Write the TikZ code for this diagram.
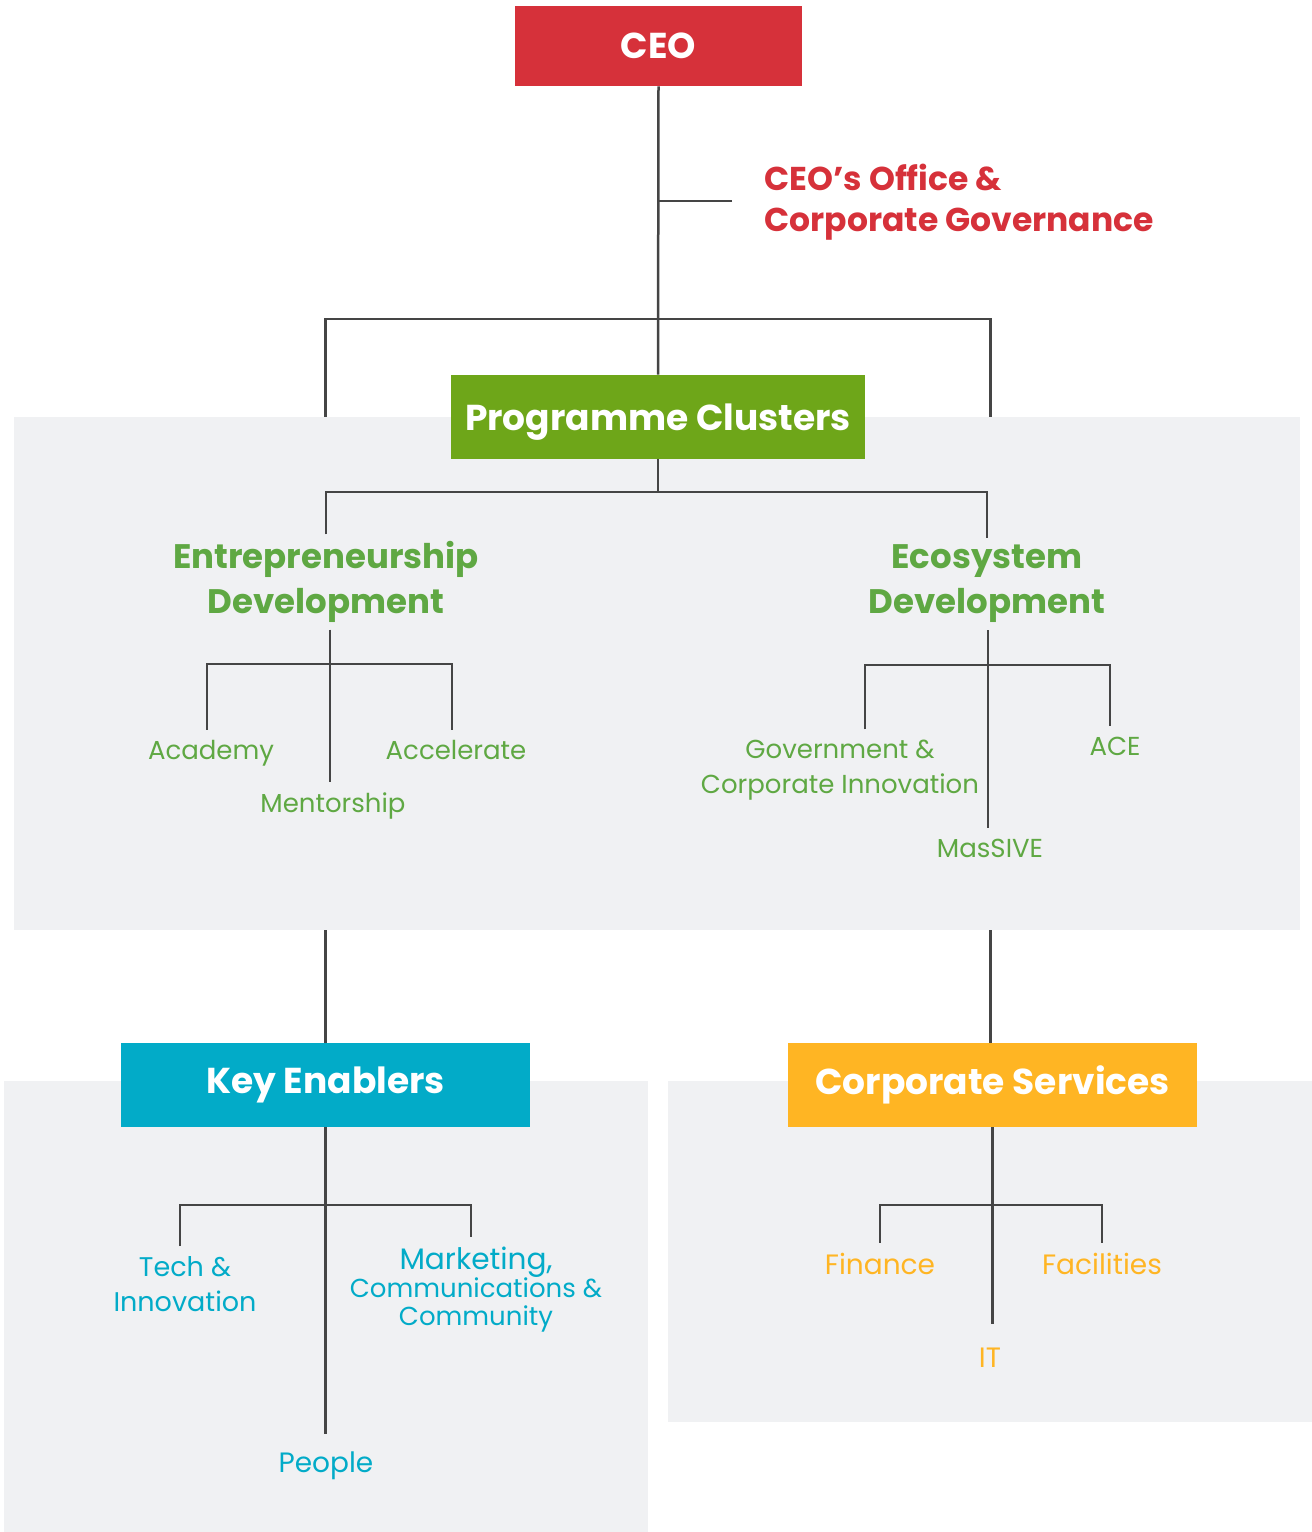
\documentclass[tikz,border=0pt]{standalone}
\usepackage{fontspec}
\setmainfont{Poppins}
\usetikzlibrary{positioning}
\definecolor{ceored}{HTML}{D6313A}
\definecolor{pcgreen}{HTML}{6EA619}
\definecolor{labgreen}{HTML}{5FA843}
\definecolor{keblue}{HTML}{02ABC8}
\definecolor{csorange}{HTML}{FFB523}
\definecolor{panelgray}{HTML}{F0F1F3}
\definecolor{linegray}{HTML}{454545}
\newcommand{\tightlines}{\lineskiplimit=-20pt\relax}
\pgfdeclarelayer{back}
\pgfdeclarelayer{panels}
\pgfsetlayers{back,panels,main}
\tikzset{
  headbox/.style={fill=#1, text=white, font=\bfseries\fontsize{18}{22}\selectfont,
    minimum height=42pt, inner sep=0pt},
  groupname/.style={text=labgreen, font=\bfseries\fontsize{17}{22.5}\selectfont, align=center},
  unitname/.style={text=#1, font=\fontsize{13}{17.5}\selectfont, align=center, inner sep=5pt},
  link/.style={draw=linegray, line width=1.25pt},
}
\begin{document}
\begin{tikzpicture}[x=0.5pt,y=-0.5pt]
  \useasboundingbox (0,0) rectangle (1312,1532);
  % grey panels
  \begin{pgfonlayer}{panels}
    \fill[panelgray] (14,417) rectangle (1300,930);
    \fill[panelgray] (4,1081) rectangle (648,1532);
    \fill[panelgray] (668,1081) rectangle (1312,1422);
  \end{pgfonlayer}
  % head boxes
  \node[headbox=ceored, minimum width=143.5pt, minimum height=40pt] (ceo) at (658.5,46) {CEO};
  \node[headbox=pcgreen, minimum width=207pt, text depth=0pt] (pc) at (658,417) {Programme Clusters};
  \node[headbox=keblue, minimum width=204.5pt] (ke) at (325.5,1085) {Key Enablers};
  \node[headbox=csorange, minimum width=204.5pt] (cs) at (992.5,1085) {Corporate Services};
  % ceo's office
  \node[anchor=west, inner sep=0pt, text=ceored, align=left,
    font=\bfseries\fontsize{16.5}{20.5}\selectfont] (office) at (764,202) {CEO’s Office \&\\Corporate Governance};
  \coordinate (tick) at (732,201);
  \coordinate (bar) at (658,319);
  \draw[link] (ceo.south) -- (pc.north);
  \draw[link] (tick) -- (tick -| ceo.south);
  \begin{pgfonlayer}{back}
    \draw[link] (ke.north) -- (ke.north |- bar) -- ([xshift=-1pt]cs.north |- bar) -- ([xshift=-1pt]cs.north);
  \end{pgfonlayer}
  % programme clusters
  \node[groupname] (ent) at (326,582) {Entrepreneurship\\Development};
  \node[groupname] (eco) at (987,584) {Ecosystem\\Development};
  \coordinate (pcbar) at (658,492);
  \draw[link] (pc.south) -- (pcbar);
  \draw[link] (ent.north) -- (ent.north |- pcbar) -- (eco.north |- pcbar) -- (eco.north);
  % entrepreneurship development
  \node[unitname=labgreen] (aca) at (211,753) {Academy};
  \node[unitname=labgreen] (acc) at (456,750) {Accelerate};
  \node[unitname=labgreen] (men) at (333,806) {Mentorship};
  \coordinate (entbar) at (330,664);
  \draw[link] (entbar |- ent.south) -- (entbar |- men.north);
  \draw[link] ([xshift=-2pt]aca.north) |- (entbar) -| ([xshift=-2pt]acc.north);
  % ecosystem development
  \node[unitname=labgreen] (gov) at (840,770) {Government \&\\Corporate Innovation};
  \node[unitname=labgreen] (ace) at (1115,746) {ACE};
  \node[unitname=labgreen] (mas) at (990,848) {MasSIVE};
  \coordinate (ecobar) at (988,665);
  \draw[link] (ecobar |- eco.south) -- (ecobar |- mas.north);
  \draw[link] ([xshift=12.5pt]gov.north) |- (ecobar) -| ([xshift=-2.5pt]ace.north);
  % key enablers
  \node[unitname=keblue, font=\fontsize{13.5}{17.5}\selectfont] (tech) at (185,1284) {Tech \&\\Innovation};
  \node[unitname=keblue, font=\fontsize{13}{14}\selectfont\tightlines] (mkt) at (476,1290)
    {{\fontsize{14.8}{14}\selectfont Marketing,}\\Communications \&\\Community};
  \node[unitname=keblue, font=\fontsize{14}{17.5}\selectfont] (ppl) at (326,1466) {People};
  \coordinate (kebar) at (327,1205);
  \draw[link] ([xshift=-2.5pt]tech.north) |- (kebar) -| ([xshift=-2.5pt]mkt.north);
  \draw[link] (ke.south) -- ([yshift=4pt]ke.south |- ppl.north);
  % corporate services
  \node[unitname=csorange, font=\fontsize{14}{17.5}\selectfont] (fin) at (880,1264) {Finance};
  \node[unitname=csorange, font=\fontsize{14}{17.5}\selectfont] (fac) at (1102,1264) {Facilities};
  \node[unitname=csorange, font=\fontsize{14}{17.5}\selectfont] (it) at (990,1358) {IT};
  \coordinate (csbar) at (991,1205);
  \draw[link] (cs.south) -- ([yshift=7pt]cs.south |- it.north);
  \draw[link] (fin.north) |- (csbar) -| (fac.north);
\end{tikzpicture}
\end{document}
